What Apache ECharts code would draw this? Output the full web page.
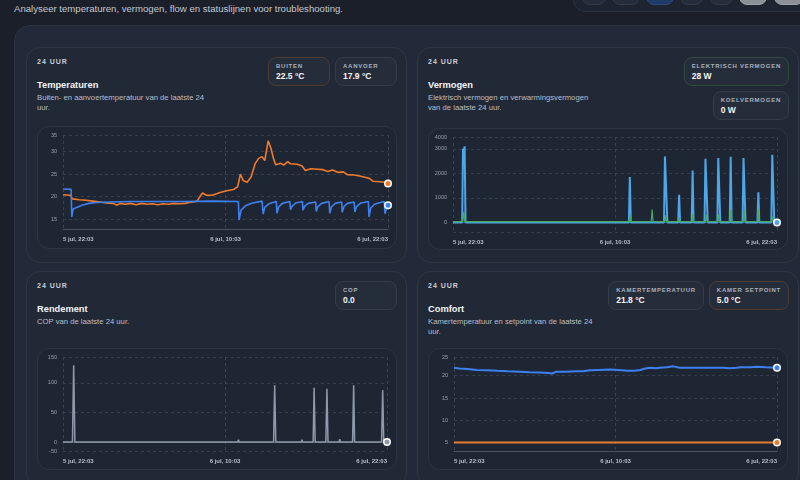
<!DOCTYPE html>
<html>
<head>
<meta charset="utf-8">
<script src="https://cdn.jsdelivr.net/npm/echarts@6/dist/echarts.min.js"></script>
<style>
  body { margin: 0; width: 800px; height: 480px; overflow: hidden; position: relative;
         background: #1a1f29; font-family: "Liberation Sans", Arial, sans-serif; }
  .intro { position: absolute; left: 14px; top: 3px; font-size: 9.6px; color: #c3c8d1; white-space: nowrap; }
  .toolbar { position: absolute; left: 573px; top: -20px; width: 260px; height: 32px; box-sizing: border-box;
             border: 1px solid #2b3340; border-radius: 12px; background: #1e2430; }
  .btn { position: absolute; top: -14px; height: 19px; box-sizing: border-box; border-radius: 8px;
         background: #262d3a; border: 1px solid #333b49; }
  .btn.active { background: #1f3a66; border-color: #2a4a7c; }
  .btn.light { background: #8b9099; border-color: #9a9fa8; }
  .panel { position: absolute; left: 14px; top: 25px; width: 820px; height: 500px; box-sizing: border-box;
           border: 1px solid #2c3443; border-radius: 16px; background: #222938; }
  .card { position: absolute; height: 216px; box-sizing: border-box; border: 1px solid #2f3747;
          border-radius: 14px; background: #212836; }
  .kicker { position: absolute; left: 10px; top: 10px; font-size: 7px; font-weight: bold; letter-spacing: 1px; color: #c9ced6; }
  .title { position: absolute; left: 10px; top: 32px; font-size: 9.3px; font-weight: bold; color: #f2f4f7; }
  .sub { position: absolute; left: 10px; top: 45px; width: 172px; font-size: 7.7px; line-height: 10px; color: #b9bfc9; }
  .stats { position: absolute; right: 9px; top: 9px; display: flex; flex-wrap: wrap; justify-content: flex-end; gap: 5px; }
  .stat { min-width: 62px; height: 29px; box-sizing: border-box; padding: 0 7px; border: 1px solid #333c4b;
          border-radius: 8px; background: #252c3a; }
  .stat.orange { border-color: #4d3b33; }
  .stat.green { border-color: #2e4a3c; }
  .stat .lbl { margin-top: 5px; font-size: 6px; line-height: 7px; font-weight: bold; letter-spacing: 0.75px; color: #aab1bd; white-space: nowrap; }
  .stat .val { margin-top: 1px; font-size: 8.5px; line-height: 10px; font-weight: bold; color: #f4f6f8; }
  .chart { position: absolute; width: 360px; height: 122px; box-sizing: border-box; border: 1px solid #2d3543;
           border-radius: 12px; background: #1f2633; }
</style>
</head>
<body>
<div class="intro">Analyseer temperaturen, vermogen, flow en statuslijnen voor troubleshooting.</div>
<div class="toolbar"></div>
<div class="btn" style="left:582px;width:24px"></div>
<div class="btn" style="left:612px;width:28px"></div>
<div class="btn active" style="left:646px;width:28px"></div>
<div class="btn" style="left:680px;width:23px"></div>
<div class="btn" style="left:709px;width:24px"></div>
<div class="btn light" style="left:739px;width:28px"></div>
<div class="btn light" style="left:774px;width:30px"></div>

<div class="panel"></div>

<div class="card" style="left:26px;top:47px;width:381px">
  <div class="kicker">24 UUR</div>
  <div class="title">Temperaturen</div>
  <div class="sub">Buiten- en aanvoertemperatuur van de laatste 24 uur.</div>
  <div class="stats">
    <div class="stat orange"><div class="lbl">BUITEN</div><div class="val">22.5 °C</div></div>
    <div class="stat"><div class="lbl">AANVOER</div><div class="val">17.9 °C</div></div>
  </div>
</div>
<div class="card" style="left:417px;top:47px;width:382px">
  <div class="kicker">24 UUR</div>
  <div class="title">Vermogen</div>
  <div class="sub">Elektrisch vermogen en verwarmingsvermogen van de laatste 24 uur.</div>
  <div class="stats" style="width:110px">
    <div class="stat green"><div class="lbl">ELEKTRISCH VERMOGEN</div><div class="val">28 W</div></div>
    <div class="stat"><div class="lbl">KOELVERMOGEN</div><div class="val">0 W</div></div>
  </div>
</div>
<div class="card" style="left:26px;top:271px;width:381px">
  <div class="kicker">24 UUR</div>
  <div class="title">Rendement</div>
  <div class="sub">COP van de laatste 24 uur.</div>
  <div class="stats">
    <div class="stat"><div class="lbl">COP</div><div class="val">0.0</div></div>
  </div>
</div>
<div class="card" style="left:417px;top:271px;width:382px">
  <div class="kicker">24 UUR</div>
  <div class="title">Comfort</div>
  <div class="sub">Kamertemperatuur en setpoint van de laatste 24 uur.</div>
  <div class="stats">
    <div class="stat"><div class="lbl">KAMERTEMPERATUUR</div><div class="val">21.8 °C</div></div>
    <div class="stat orange"><div class="lbl">KAMER SETPOINT</div><div class="val">5.0 °C</div></div>
  </div>
</div>

<div class="chart" id="chart-temp" style="left:37px;top:126px;height:123px"></div>
<div class="chart" id="chart-power" style="left:428px;top:128px"></div>
<div class="chart" id="chart-cop" style="left:37px;top:348px"></div>
<div class="chart" id="chart-comfort" style="left:428px;top:348px"></div>

<script>
const xLabels = ['5 jul, 22:03', '6 jul, 10:03', '6 jul, 22:03'];

// [uur sinds 5 jul 22:03, waarde]
const buitenTemp = [
  [0, 20.4], [0.55, 20.3], [0.7, 19.5], [1.2, 19.3], [1.7, 19.2], [2.2, 19.0], [2.7, 18.8],
  [3.2, 18.6], [3.7, 18.5], [4.0, 18.1], [4.2, 18.5], [4.6, 18.3], [5.0, 18.5], [5.4, 18.2],
  [5.8, 18.5], [6.2, 18.3], [6.6, 18.4], [7.0, 18.2], [7.4, 18.4], [7.8, 18.3], [8.2, 18.5],
  [8.6, 18.4], [9.0, 18.5], [9.3, 18.7], [9.6, 18.8], [9.9, 19.0], [10.15, 20.2], [10.3, 20.8],
  [10.6, 20.3], [11.0, 20.3], [11.3, 20.6], [11.6, 20.9], [12.1, 21.3], [12.6, 21.6], [12.9, 22.2],
  [13.1, 25.0], [13.3, 23.6], [13.6, 23.2], [13.9, 24.4], [14.05, 26.0], [14.2, 27.4], [14.45, 28.5],
  [14.7, 28.9], [14.9, 28.0], [15.15, 32.4], [15.35, 30.8], [15.55, 28.4], [15.7, 27.1], [16.1, 27.4],
  [16.3, 27.0], [16.6, 27.8], [16.8, 27.3], [17.3, 27.2], [17.65, 26.8], [17.9, 25.8], [18.3, 26.2],
  [18.8, 26.1], [19.2, 26.0], [19.55, 25.6], [19.9, 25.9], [20.3, 25.4], [20.7, 25.5], [21.0, 24.9],
  [21.5, 24.8], [21.9, 24.6], [22.3, 24.3], [22.6, 24.1], [22.9, 23.4], [23.4, 23.3], [23.75, 23.2],
  [24, 22.9]
];
const aanvoerTemp = [
  [0, 21.7], [0.6, 21.6], [0.65, 15.5], [0.75, 17.2], [1.0, 17.6], [1.4, 18.1], [1.9, 18.5],
  [2.5, 18.7], [3.5, 18.8], [5, 18.9], [7, 18.9], [9, 18.9], [11, 19.0], [12.95, 18.9],
  [13.0, 14.8], [13.15, 17.0], [13.5, 18.0], [14.0, 18.6], [14.7, 19.0],
  [14.78, 16.1], [14.9, 17.6], [15.2, 18.4], [15.75, 18.9],
  [15.8, 16.3], [15.92, 17.7], [16.2, 18.5], [16.75, 18.9],
  [16.8, 17.1], [16.92, 17.9], [17.2, 18.6], [17.68, 18.9],
  [17.72, 17.0], [17.85, 17.9], [18.1, 18.5], [18.66, 18.8],
  [18.7, 16.7], [18.82, 17.8], [19.1, 18.5], [19.65, 18.9],
  [19.7, 16.3], [19.82, 17.7], [20.1, 18.5], [20.58, 18.8],
  [20.62, 16.5], [20.75, 17.8], [21.0, 18.5], [21.5, 18.8],
  [21.55, 16.6], [21.68, 17.8], [22.0, 18.6], [22.55, 18.9],
  [22.6, 15.5], [22.72, 17.4], [23.0, 18.3], [23.3, 18.6], [23.72, 18.9],
  [23.78, 16.2], [23.88, 17.3], [24, 18.1]
];
const warmteVermogen = [
  [0, 0], [0.68, 0], [0.74, 3000], [0.8, 2900], [0.86, 3100], [0.93, 0],
  [13.03, 0], [13.1, 1850], [13.17, 0],
  [15.63, 0], [15.7, 2680], [15.8, 2640], [15.88, 0],
  [16.68, 0], [16.75, 1130], [16.82, 0],
  [17.68, 0], [17.75, 2110], [17.82, 0],
  [18.63, 0], [18.7, 2590], [18.8, 2630], [18.87, 0],
  [19.58, 0], [19.65, 2620], [19.73, 2650], [19.8, 0],
  [20.5, 0], [20.57, 2670], [20.64, 0],
  [21.45, 0], [21.52, 2620], [21.6, 2670], [21.67, 0],
  [22.55, 0], [22.62, 1230], [22.69, 0],
  [23.58, 0], [23.65, 2760], [23.73, 2800], [23.8, 0], [24, 0]
];
const elektrischVermogen = [
  [0, 30], [0.72, 30], [0.8, 430], [0.88, 30],
  [13.04, 30], [13.1, 300], [13.16, 30],
  [14.68, 30], [14.75, 520], [14.82, 30],
  [15.7, 30], [15.76, 300], [15.82, 30],
  [16.7, 30], [16.76, 200], [16.82, 30],
  [17.7, 30], [17.76, 330], [17.82, 30],
  [18.7, 30], [18.76, 320], [18.82, 30],
  [19.62, 30], [19.68, 320], [19.74, 30],
  [20.52, 30], [20.58, 520], [20.64, 30],
  [21.5, 30], [21.56, 520], [21.62, 30],
  [22.56, 30], [22.62, 520], [22.68, 30],
  [23.62, 30], [23.7, 260], [23.76, 30], [24, 28]
];
const copWaarden = [
  [0, 0], [0.7, 0], [0.79, 130], [0.88, 0],
  [12.95, 0], [13.0, 4], [13.05, 0],
  [15.6, 0], [15.68, 96], [15.76, 0],
  [16.65, 0], [16.7, 2], [16.75, 0],
  [17.65, 0], [17.7, 4], [17.75, 0],
  [18.53, 0], [18.6, 92], [18.68, 0],
  [19.47, 0], [19.55, 90], [19.63, 0],
  [20.45, 0], [20.5, 5], [20.55, 0],
  [21.45, 0], [21.53, 96], [21.6, 0],
  [22.55, 0], [22.6, 2], [22.65, 0],
  [23.6, 0], [23.68, 88], [23.76, 0], [24, 0]
];
const kamerTemp = [
  [0, 21.8], [0.4, 21.6], [1, 21.5], [1.7, 21.3], [2.5, 21.2], [3.2, 21.1], [4, 21.0], [4.9, 20.9],
  [5.6, 20.8], [6.4, 20.7], [7.0, 20.6], [7.3, 20.5], [7.6, 20.9], [8.3, 20.9], [9.1, 21.0], [9.6, 21.0],
  [10.1, 21.2], [10.8, 21.3], [11.6, 21.4], [12.2, 21.3], [12.9, 21.1], [13.4, 21.1], [13.85, 21.3],
  [14.2, 21.6], [14.6, 21.8], [15.0, 21.7], [15.3, 21.8], [15.8, 21.9], [16.3, 22.1], [16.6, 21.9],
  [16.8, 21.8], [17.8, 21.8], [19, 21.8], [20, 21.8], [20.5, 21.7], [21, 21.8], [21.3, 21.9],
  [22, 21.9], [22.5, 22.0], [23.2, 21.9], [24, 21.8]
];
const kamerSetpoint = [[0, 5.0], [24, 5.0]];

// y-as bereik en labels aan de randen [onder, boven]
const tempRange = [12.8, 33.7];
const tempEdgeLabels = ['', '35'];
const powerRange = [-390, 3480];
const powerEdgeLabels = ['', '4000'];
const copRange = [-15, 143.8];
const copEdgeLabels = ['-50', '150'];
const comfortRange = [3.1, 24.2];
const comfortEdgeLabels = ['', '25'];

function lineSeries(data, color, width, dot) {
  return {
    type: 'line',
    data,
    symbol: 'circle',
    showSymbol: dot,
    showAllSymbol: true,
    symbolSize: (v, p) => (p.dataIndex === data.length - 1 ? 6.5 : 0),
    itemStyle: { color, borderColor: '#ffffff', borderWidth: 1.5 },
    lineStyle: { color, width },
    emphasis: { disabled: true },
    z: 3
  };
}

function buildChart(id, range, edgeLabels, splitNumber, grid, series) {
  let chart = echarts.init(document.getElementById(id));
  chart.setOption({
    animation: false,
    grid: { ...grid, containLabel: false, outerBoundsMode: 'none' },
    xAxis: {
      type: 'value',
      min: 0,
      max: 24,
      interval: 12,
      axisLine: { lineStyle: { color: '#4a5364' } },
      axisTick: { show: false },
      splitLine: { show: true, lineStyle: { color: '#3a4353', type: [3, 3] } },
      axisLabel: {
        formatter: (v) => xLabels[v / 12],
        fontSize: 6,
        fontWeight: 'bold',
        color: '#b8bec8',
        margin: 7,
        alignMinLabel: 'left',
        alignMaxLabel: 'right'
      }
    },
    yAxis: {
      type: 'value',
      min: range[0],
      max: range[1],
      splitNumber,
      axisLine: { show: false },
      axisTick: { show: false },
      splitLine: { lineStyle: { color: '#363e4d', type: [3, 3] } },
      axisLabel: {
        fontSize: 5.5,
        color: '#98a0ad',
        margin: 6,
        formatter: (v) => {
          if (Math.abs(v - range[1]) < 1e-6) return edgeLabels[1];
          if (Math.abs(v - range[0]) < 1e-6) return edgeLabels[0];
          return String(v);
        }
      }
    },
    series
  });
}

buildChart('chart-temp', tempRange, tempEdgeLabels, 5,
  { left: 25, right: 8, top: 8, bottom: 19 }, [
    lineSeries(buitenTemp, '#f07b2c', 1.6, true),
    lineSeries(aanvoerTemp, '#3d80f0', 1.6, true)
  ]);

buildChart('chart-power', powerRange, powerEdgeLabels, 5,
  { left: 24, right: 10, top: 8, bottom: 17 }, [
    lineSeries(warmteVermogen, '#4da6e8', 2, true),
    lineSeries(elektrischVermogen, '#46a85c', 1.2, false)
  ]);

buildChart('chart-cop', copRange, copEdgeLabels, 3,
  { left: 25, right: 9, top: 8, bottom: 18 }, [
    lineSeries(copWaarden, '#8e9aab', 1.5, true)
  ]);

buildChart('chart-comfort', comfortRange, comfortEdgeLabels, 5,
  { left: 25, right: 10, top: 8, bottom: 18 }, [
    lineSeries(kamerTemp, '#3d80f0', 2, true),
    lineSeries(kamerSetpoint, '#e57d35', 2, true)
  ]);
</script>
</body>
</html>
